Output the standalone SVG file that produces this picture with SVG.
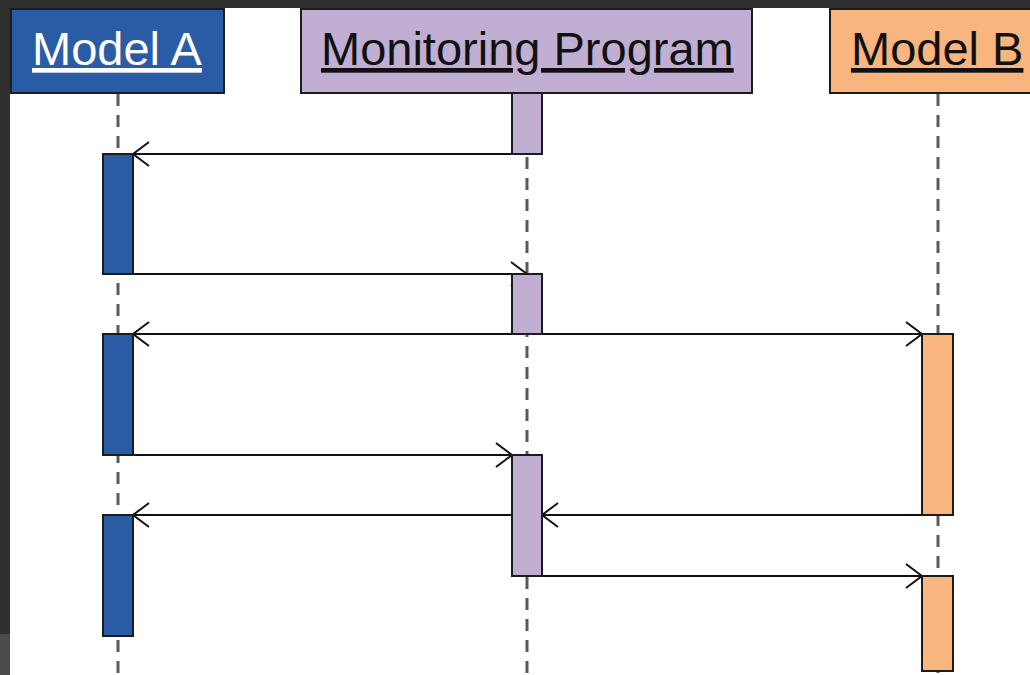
<svg xmlns="http://www.w3.org/2000/svg" width="1030" height="675" viewBox="0 0 1030 675">
  <defs>
    <style>
      .head { stroke: #1c1c1c; stroke-width: 2; }
      .label { font-family: "Liberation Sans", Arial, sans-serif; font-size: 47px; text-decoration: underline; }
      .life { stroke: #5a5a5a; stroke-width: 3; stroke-dasharray: 12 9; fill: none; }
      .act { stroke: #1c1c1c; stroke-width: 2; }
      .msg { stroke: #111; stroke-width: 2; fill: none; marker-end: url(#open); }
      .a { fill: #2a5ca6; }
      .m { fill: #c0afd2; }
      .b { fill: #f8b57d; }
    </style>
    <marker id="open" viewBox="0 0 18 26" refX="17" refY="13" markerWidth="18" markerHeight="26" markerUnits="userSpaceOnUse" orient="auto">
      <path d="M1,1 L17,13 L1,25" fill="none" stroke="#111" stroke-width="2"/>
    </marker>
  </defs>

  <!-- frame -->
  <rect x="0" y="0" width="1030" height="675" fill="#ffffff"/>
  <rect x="0" y="0" width="1030" height="8" fill="#303030"/>
  <rect x="0" y="0" width="10" height="634" fill="#303030"/>
  <rect x="0" y="634" width="10" height="41" fill="#4b4b4b"/>

  <!-- lifelines -->
  <g id="lifelines">
    <line class="life" x1="118" y1="94" x2="118" y2="675"/>
    <line class="life" x1="527" y1="94" x2="527" y2="675"/>
    <line class="life" x1="938" y1="94" x2="938" y2="675"/>
  </g>

  <!-- messages -->
  <g id="connectors">
    <line class="msg" x1="512" y1="154" x2="133" y2="154"/>
    <line class="msg" x1="133" y1="274" x2="527" y2="274"/>
    <line class="msg" x1="512" y1="334" x2="133" y2="334"/>
    <line class="msg" x1="542" y1="334" x2="922" y2="334"/>
    <line class="msg" x1="133" y1="455" x2="512" y2="455"/>
    <line class="msg" x1="922" y1="515" x2="542" y2="515"/>
    <line class="msg" x1="512" y1="515" x2="133" y2="515"/>
    <line class="msg" x1="542" y1="576" x2="922" y2="576"/>
  </g>

  <!-- participant: Model A -->
  <g id="model-a">
    <rect class="head a" x="11" y="9" width="213" height="84"/>
    <text class="label" x="32" y="65" fill="#ffffff">Model A</text>
    <rect class="act a" x="103" y="154" width="30" height="120"/>
    <rect class="act a" x="103" y="334" width="30" height="121"/>
    <rect class="act a" x="103" y="515" width="30" height="121"/>
  </g>

  <!-- participant: Monitoring Program -->
  <g id="monitoring-program">
    <rect class="head m" x="301" y="9" width="451" height="84"/>
    <text class="label" x="321" y="65" fill="#111111">Monitoring Program</text>
    <rect class="act m" x="512" y="93" width="30" height="61"/>
    <rect class="act m" x="512" y="274" width="30" height="60"/>
    <rect class="act m" x="512" y="455" width="30" height="121"/>
  </g>

  <!-- participant: Model B -->
  <g id="model-b">
    <rect class="head b" x="830" y="9" width="210" height="84"/>
    <text class="label" x="851" y="65" fill="#111111">Model B</text>
    <rect class="act b" x="922" y="334" width="31" height="181"/>
    <rect class="act b" x="922" y="576" width="31" height="95"/>
  </g>
</svg>
